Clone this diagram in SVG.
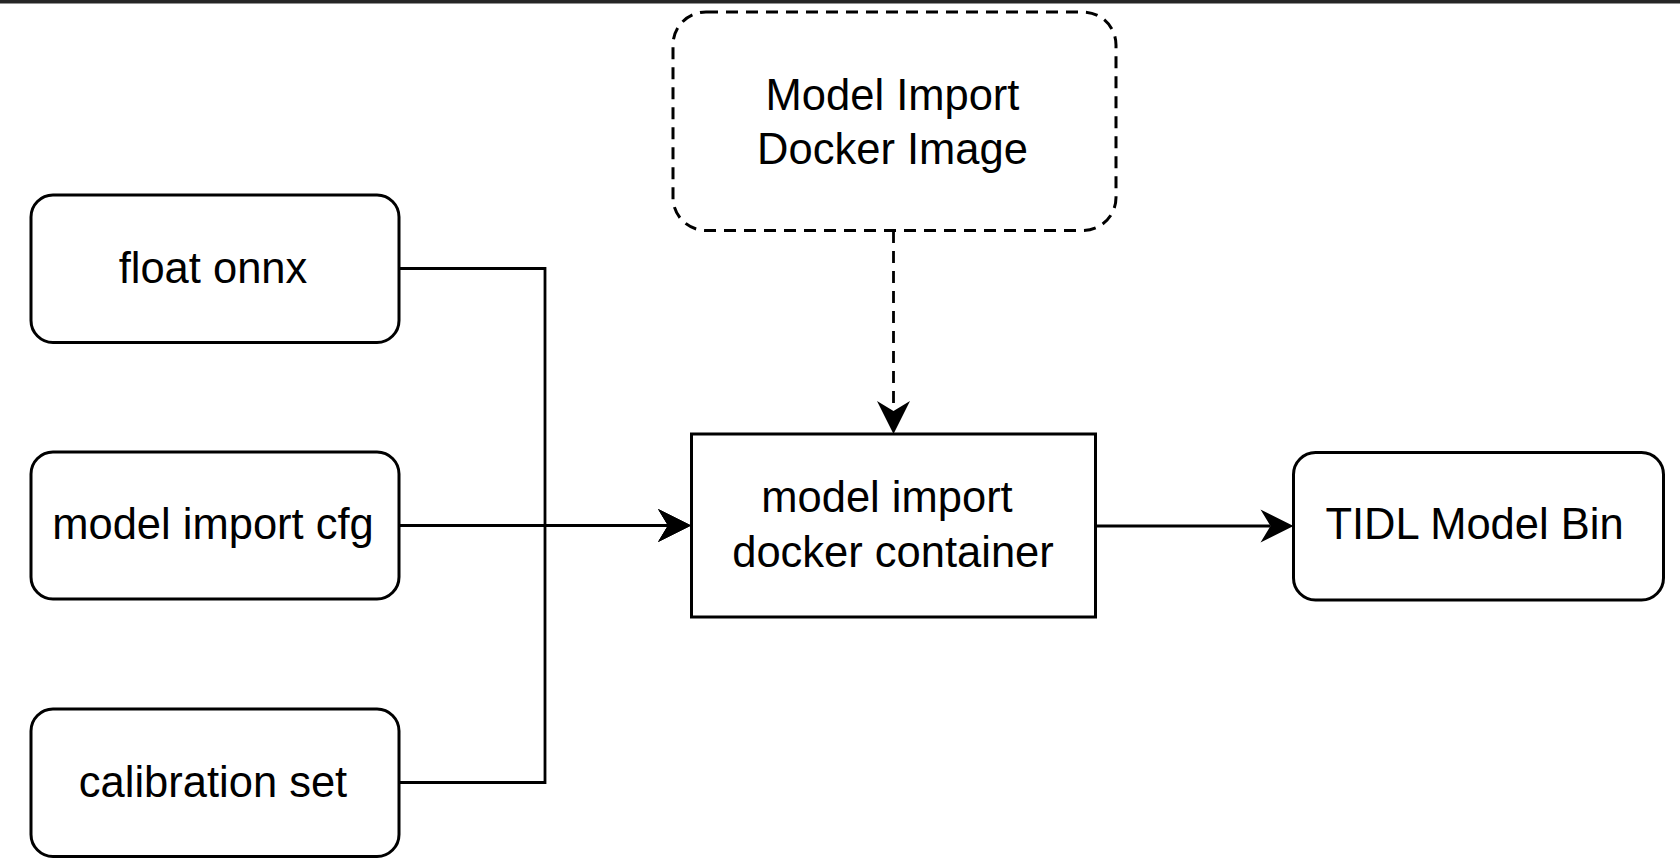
<svg xmlns="http://www.w3.org/2000/svg" width="1680" height="868" viewBox="0 0 1680 868">
  <style>
    .box { fill: #ffffff; stroke: #000000; stroke-width: 3; }
    .dash { stroke-dasharray: 12 8; }
    .lbl { font-family: "Liberation Sans", Arial, Helvetica, sans-serif; font-size: 43.5px; fill: #000000; text-anchor: middle; }
    .edge { fill: none; stroke: #000000; stroke-width: 2.8; }
  </style>
  <defs>
    <marker id="arrow" markerUnits="userSpaceOnUse" viewBox="-12 -18 37 36" markerWidth="37" markerHeight="36" refX="0" refY="0" orient="auto">
      <path d="M23,0 L-10,-16.5 L0,0 L-10,16.5 Z" fill="#000000"/>
    </marker>
  </defs>
  <rect x="0" y="0" width="1680" height="868" fill="#ffffff"/>
  <rect x="0" y="0" width="1680" height="3.5" fill="#262626"/>

  <g id="connectors">
    <path class="edge" d="M399,268.5 H545 V525.5 H668" marker-end="url(#arrow)"/>
    <path class="edge" d="M399,525.5 H668" marker-end="url(#arrow)"/>
    <path class="edge" d="M399,782.5 H545 V525.5 H668" marker-end="url(#arrow)"/>
    <path class="edge dash" d="M893.5,231 V411" marker-end="url(#arrow)"/>
    <path class="edge" d="M1095.5,526 H1270.5" marker-end="url(#arrow)"/>
  </g>

  <g id="node-float-onnx">
    <rect class="box" x="31" y="195" width="368" height="147.5" rx="22" ry="22"/>
    <text class="lbl" x="213" y="282.5">float onnx</text>
  </g>
  <g id="node-model-import-cfg">
    <rect class="box" x="31" y="452" width="368" height="147" rx="22" ry="22"/>
    <text class="lbl" x="213" y="539">model import cfg</text>
  </g>
  <g id="node-calibration-set">
    <rect class="box" x="31" y="709" width="368" height="147.5" rx="22" ry="22"/>
    <text class="lbl" x="213" y="796.5">calibration set</text>
  </g>
  <g id="node-docker-image">
    <rect class="box dash" x="673" y="12" width="443" height="218.5" rx="33" ry="33"/>
    <text class="lbl" x="892.5" y="109.5">Model Import</text>
    <text class="lbl" x="892.5" y="163.5">Docker Image</text>
  </g>
  <g id="node-docker-container">
    <rect class="box" x="691.5" y="434" width="404" height="183"/>
    <text class="lbl" x="887" y="511.5">model import</text>
    <text class="lbl" x="893" y="566.5">docker container</text>
  </g>
  <g id="node-tidl-model-bin">
    <rect class="box" x="1293.5" y="452.5" width="370" height="147.5" rx="22" ry="22"/>
    <text class="lbl" x="1474.5" y="538.5">TIDL Model Bin</text>
  </g>
</svg>
